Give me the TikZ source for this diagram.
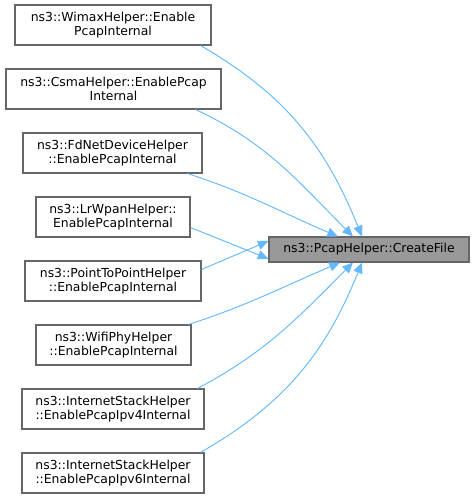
\documentclass[tikz,border=0pt]{standalone}
\usepackage{fontspec}
\setmainfont{DejaVu Sans}
\usetikzlibrary{arrows.meta}

\definecolor{edgeblue}{HTML}{63B8FF}
\definecolor{boxgray}{HTML}{666666}
\definecolor{targetfill}{HTML}{999999}

\tikzset{
  caller/.style={draw=boxgray, fill=white, line width=0.8pt, align=center,
    minimum height=30pt, inner sep=0pt,
    font=\fontsize{9.3pt}{10.5pt}\selectfont},
  callee/.style={caller, fill=targetfill, minimum height=18.75pt},
  edge/.style={draw=edgeblue, line width=0.7pt,
    -{Triangle[length=8pt,width=7pt,fill=edgeblue]}}
}

\begin{document}
\begin{tikzpicture}[x=0.75pt,y=-0.75pt]
    \useasboundingbox (0,0) rectangle (475,499);

    % funcion llamada
    \node[callee, minimum width=150pt] (createfile) at (369,249.5) {ns3::PcapHelper::CreateFile};

    % funciones que la llaman
    \node[caller, minimum width=147pt]    (wimax)  at (113,25)  {ns3::WimaxHelper::Enable\\PcapInternal};
    \node[caller, minimum width=161.25pt] (csma)   at (113.5,89) {ns3::CsmaHelper::EnablePcap\\Internal};
    \node[caller, minimum width=134.25pt] (fdnet)  at (112.5,153) {ns3::FdNetDeviceHelper\\::EnablePcapInternal};
    \node[caller, minimum width=115.5pt]  (lrwpan) at (113,217) {ns3::LrWpanHelper::\\EnablePcapInternal};
    \node[caller, minimum width=132pt]    (ptp)    at (113,281) {ns3::PointToPointHelper\\::EnablePcapInternal};
    \node[caller, minimum width=116.25pt] (wifi)   at (113.5,345) {ns3::WifiPhyHelper\\::EnablePcapInternal};
    \node[caller, minimum width=136.5pt]  (ipv4)   at (113,409) {ns3::InternetStackHelper\\::EnablePcapIpv4Internal};
    \node[caller, minimum width=136.5pt]  (ipv6)   at (113,473) {ns3::InternetStackHelper\\::EnablePcapIpv6Internal};

    % llamadas
    \draw[edge] ([xshift=-8.25pt]wimax.south east) to[out=-30,in=112] ([xshift=-5.25pt]createfile.north);
    \draw[edge] ([xshift=-19.5pt]csma.south east) to[out=-25,in=135] ([xshift=-12pt]createfile.north);
    \draw[edge] ([xshift=-11.25pt]fdnet.south east) to[out=-18,in=157] ([xshift=-23.25pt]createfile.north);
    \draw[edge] ([yshift=7.5pt]lrwpan.south east) -- ([yshift=-7pt]createfile.west);
    \draw[edge] ([yshift=-6.75pt]ptp.north east) -- ([yshift=6.4pt]createfile.west);
    \draw[edge] ([xshift=-2.25pt]wifi.north east) to[out=18,in=-157] ([xshift=-21.75pt]createfile.south);
    \draw[edge] ([xshift=-5.25pt]ipv4.north east) to[out=28,in=-135] ([xshift=-12pt]createfile.south);
    \draw[edge] ([xshift=-3pt]ipv6.north east) to[out=30,in=-112] ([xshift=-5.25pt]createfile.south);
\end{tikzpicture}
\end{document}
